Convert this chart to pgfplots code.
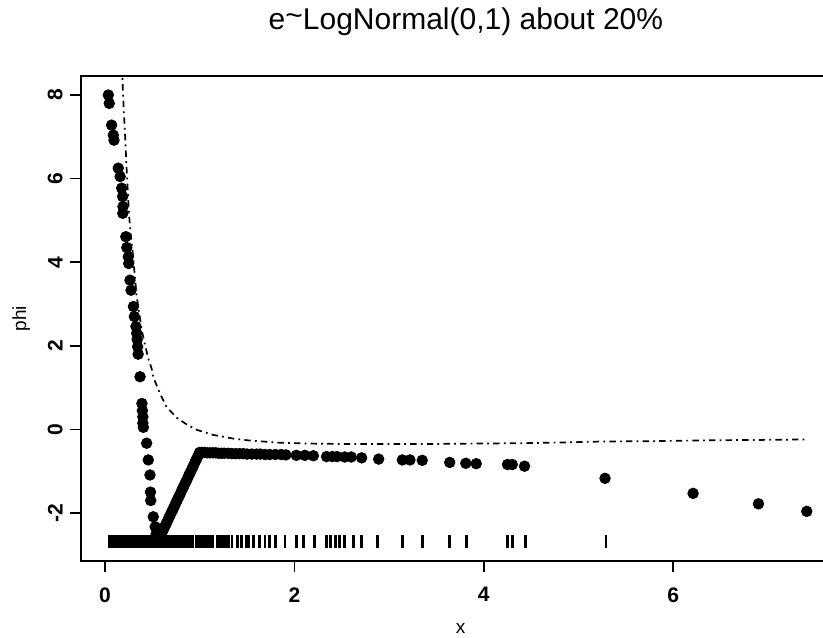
\documentclass[border=0pt]{standalone}
\usepackage{fontspec}
\setmainfont{Liberation Sans}
\usepackage{pgfplots}
\pgfplotsset{compat=1.18}
\begin{document}
\begin{tikzpicture}
\path[use as bounding box] (-40.5pt,-38pt) rectangle (371pt,280.5pt);
\begin{axis}[
  at={(0,0)}, anchor=south west,
  scale only axis, width=373pt, height=242.5pt,
  xmin=-0.2534, xmax=7.624, ymin=-3.148, ymax=8.455,
  axis line style={line width=1pt},
  tick align=outside, tick pos=left,
  major tick length=5.5pt,
  tick style={line width=0.8pt, black},
  xtick={0,2,4,6}, ytick={-2,0,2,4,6,8},
  /pgf/number format/assume math mode=true,
  ticklabel style={font=\fontsize{10.5}{12}\selectfont\bfseries},
  yticklabel style={xshift=-3.5pt, rotate=90, anchor=south, inner sep=0pt},
  xticklabel style={yshift=-7.5pt, anchor=north, inner sep=0pt},
  title={e\raisebox{0.15em}{\char"007E}LogNormal(0,1) about 20\%},
  title style={at={(0.516,1.071)}, anchor=base, inner sep=0pt, font=\fontsize{15}{17}\selectfont},
  xlabel={x},
  xlabel style={at={(0.509,-0.150)}, anchor=base, yshift=0pt, inner sep=0pt, font=\fontsize{9.5}{11}\selectfont},
  ylabel={phi},
  ylabel style={at={(-0.0737,0.5)}, anchor=base, inner sep=0pt, font=\fontsize{9.5}{11}\selectfont},
]
% dot-dash curve
\addplot[black, line width=0.85pt, dash pattern=on 0.9pt off 2.1pt on 3.2pt off 2.1pt, no marks] table {
x y
0.178 8.80
0.183 8.45
0.190 8.05
0.200 7.55
0.211 7.10
0.229 6.20
0.245 5.50
0.257 5.05
0.270 4.70
0.292 4.25
0.306 3.89
0.334 3.20
0.370 2.65
0.387 2.38
0.420 2.05
0.457 1.70
0.493 1.45
0.510 1.25
0.580 0.86
0.650 0.54
0.757 0.28
0.862 0.12
0.968 -0.01
1.140 -0.13
1.355 -0.22
1.500 -0.26
1.850 -0.32
2.200 -0.34
2.550 -0.35
2.900 -0.35
3.400 -0.35
3.850 -0.34
4.400 -0.33
4.880 -0.31
5.230 -0.29
5.800 -0.28
6.400 -0.26
7.000 -0.25
7.410 -0.24
};
% rug
\addplot[black, only marks, mark=|, mark size=3.25pt, mark options={line width=1.4pt}] coordinates {
(0.050,-2.687)(0.062,-2.687)(0.074,-2.687)(0.086,-2.687)(0.098,-2.687)(0.110,-2.687)
(0.122,-2.687)(0.134,-2.687)(0.146,-2.687)(0.158,-2.687)(0.170,-2.687)(0.182,-2.687)
(0.194,-2.687)(0.206,-2.687)(0.218,-2.687)(0.230,-2.687)(0.242,-2.687)(0.254,-2.687)
(0.266,-2.687)(0.278,-2.687)(0.290,-2.687)(0.302,-2.687)(0.314,-2.687)(0.326,-2.687)
(0.338,-2.687)(0.350,-2.687)(0.362,-2.687)(0.374,-2.687)(0.386,-2.687)(0.398,-2.687)
(0.410,-2.687)(0.422,-2.687)(0.434,-2.687)(0.446,-2.687)(0.458,-2.687)(0.470,-2.687)
(0.482,-2.687)(0.494,-2.687)(0.506,-2.687)(0.518,-2.687)(0.530,-2.687)(0.542,-2.687)
(0.554,-2.687)(0.566,-2.687)(0.578,-2.687)
(0.595,-2.687)(0.610,-2.687)(0.625,-2.687)(0.640,-2.687)(0.655,-2.687)(0.670,-2.687)
(0.690,-2.687)(0.705,-2.687)(0.720,-2.687)(0.735,-2.687)(0.750,-2.687)(0.770,-2.687)
(0.785,-2.687)(0.800,-2.687)(0.815,-2.687)(0.830,-2.687)(0.850,-2.687)(0.865,-2.687)
(0.880,-2.687)(0.900,-2.687)(0.915,-2.687)(0.930,-2.687)
(0.960,-2.687)(0.975,-2.687)(1.000,-2.687)(1.015,-2.687)(1.030,-2.687)(1.050,-2.687)
(1.065,-2.687)(1.080,-2.687)(1.100,-2.687)(1.120,-2.687)(1.140,-2.687)
(1.190,-2.687)(1.210,-2.687)(1.230,-2.687)(1.260,-2.687)(1.280,-2.687)(1.310,-2.687)
(1.340,-2.687)(1.400,-2.687)(1.440,-2.687)(1.490,-2.687)(1.520,-2.687)(1.570,-2.687)
(1.630,-2.687)(1.690,-2.687)(1.740,-2.687)(1.800,-2.687)(1.900,-2.687)(2.020,-2.687)
(2.100,-2.687)(2.210,-2.687)(2.340,-2.687)(2.380,-2.687)(2.430,-2.687)(2.480,-2.687)
(2.530,-2.687)(2.620,-2.687)(2.710,-2.687)(2.880,-2.687)(3.140,-2.687)(3.350,-2.687)
(3.640,-2.687)(3.820,-2.687)(4.250,-2.687)(4.300,-2.687)(4.440,-2.687)(5.290,-2.687)
};
% points
\addplot[black, only marks, mark=*, mark size=2.65pt] table {
x y
0.035 8.00
0.045 7.80
0.070 7.28
0.088 7.04
0.095 6.92
0.140 6.25
0.160 6.05
0.176 5.77
0.186 5.57
0.190 5.33
0.188 5.17
0.220 4.61
0.230 4.35
0.246 4.13
0.250 3.97
0.264 3.57
0.275 3.33
0.300 2.94
0.310 2.70
0.327 2.46
0.335 2.30
0.340 2.15
0.345 1.98
0.350 1.80
0.370 1.26
0.390 0.62
0.395 0.45
0.400 0.30
0.400 0.15
0.405 0.05
0.440 -0.33
0.457 -0.73
0.475 -1.09
0.480 -1.50
0.483 -1.70
0.510 -2.09
0.530 -2.33
0.540 -2.50
0.555 -2.69
0.570 -2.62
0.585 -2.55
0.600 -2.47
0.615 -2.40
0.630 -2.33
0.645 -2.26
0.660 -2.19
0.675 -2.11
0.690 -2.04
0.705 -1.97
0.720 -1.90
0.735 -1.83
0.750 -1.75
0.765 -1.68
0.780 -1.61
0.795 -1.54
0.810 -1.46
0.825 -1.39
0.840 -1.32
0.855 -1.25
0.870 -1.18
0.885 -1.10
0.900 -1.03
0.915 -0.96
0.930 -0.89
0.945 -0.81
0.960 -0.74
0.975 -0.67
0.990 -0.60
1.000 -0.55
1.020 -0.55
1.050 -0.55
1.080 -0.56
1.110 -0.56
1.140 -0.56
1.170 -0.56
1.200 -0.57
1.230 -0.57
1.260 -0.57
1.300 -0.57
1.340 -0.58
1.380 -0.58
1.420 -0.58
1.460 -0.58
1.500 -0.59
1.550 -0.59
1.600 -0.59
1.640 -0.59
1.690 -0.60
1.740 -0.60
1.800 -0.60
1.860 -0.60
1.910 -0.61
2.020 -0.62
2.110 -0.62
2.200 -0.63
2.340 -0.65
2.400 -0.65
2.450 -0.65
2.530 -0.66
2.600 -0.66
2.710 -0.68
2.890 -0.71
3.140 -0.73
3.220 -0.73
3.350 -0.74
3.640 -0.79
3.810 -0.81
3.920 -0.82
4.250 -0.84
4.300 -0.84
4.430 -0.88
5.280 -1.17
6.210 -1.53
6.900 -1.78
7.410 -1.96
};
\end{axis}
\end{tikzpicture}
\end{document}
